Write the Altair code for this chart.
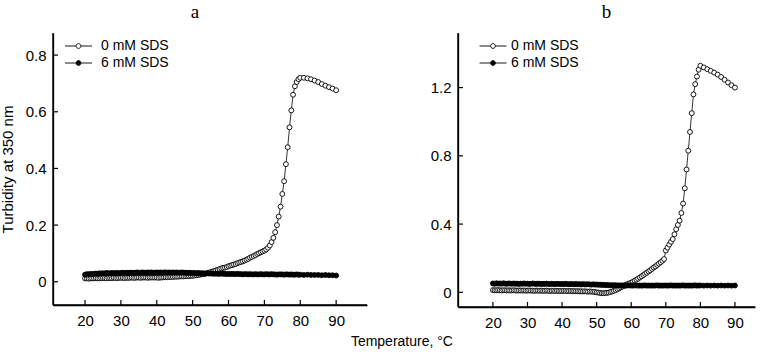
import altair as alt
import pandas as pd

# Temperature sampling grid (deg C): 0.5 steps up to 79.5, then 1-degree steps to 90
T = [20 + 0.5 * i for i in range(120)] + [80 + i for i in range(11)]

SERIES = ["0 mM SDS", "6 mM SDS"]

# ---- Panel a ----
A_0 = [0.012,0.012,0.011,0.012,0.012,0.012,0.013,0.012,0.012,0.013, 0.013,0.013,0.012,0.013,0.013,0.013,0.014,0.013,0.013,0.014,
       0.014,0.014,0.013,0.014,0.014,0.014,0.015,0.014,0.014,0.015, 0.015,0.014,0.015,0.015,0.015,0.014,0.015,0.015,0.015,0.015,
       0.015,0.014,0.015,0.015,0.016,0.016,0.016,0.017,0.017,0.017, 0.018,0.018,0.018,0.019,0.019,0.019,0.020,0.020,0.020,0.021,
       0.021,0.022,0.023,0.024,0.025,0.026,0.027,0.028,0.030,0.032, 0.034,0.036,0.038,0.040,0.042,0.045,0.047,0.049,0.050,0.052,
       0.055,0.057,0.059,0.061,0.063,0.066,0.068,0.070,0.072,0.075, 0.078,0.081,0.085,0.088,0.091,0.094,0.098,0.101,0.104,0.107,
       0.110,0.114,0.120,0.128,0.140,0.155,0.175,0.200,0.230,0.265, 0.310,0.355,0.415,0.475,0.545,0.605,0.660,0.690,0.705,0.715,
       0.720,0.720,0.718,0.715,0.710,0.705,0.698,0.692,0.687,0.682,0.676]
A_6 = [0.025,0.027,0.026,0.028,0.027,0.028,0.029,0.028,0.030,0.029, 0.030,0.029,0.031,0.030,0.030,0.031,0.030,0.031,0.031,0.030,
       0.031,0.032,0.031,0.032,0.031,0.032,0.032,0.031,0.032,0.033, 0.032,0.032,0.033,0.032,0.032,0.033,0.032,0.033,0.032,0.032,
       0.033,0.032,0.033,0.032,0.033,0.033,0.032,0.033,0.032,0.033, 0.032,0.033,0.032,0.032,0.033,0.032,0.032,0.031,0.032,0.031,
       0.031,0.031,0.030,0.031,0.030,0.030,0.030,0.029,0.030,0.029, 0.029,0.029,0.028,0.029,0.028,0.028,0.029,0.028,0.028,0.027,
       0.028,0.027,0.028,0.027,0.027,0.028,0.027,0.027,0.026,0.027, 0.027,0.026,0.027,0.026,0.026,0.027,0.026,0.026,0.027,0.026,
       0.026,0.027,0.026,0.026,0.027,0.026,0.026,0.025,0.026,0.026, 0.026,0.025,0.026,0.026,0.025,0.026,0.025,0.025,0.026,0.025,
       0.025,0.024,0.025,0.024,0.024,0.024,0.023,0.024,0.023,0.023,0.022]

# ---- Panel b ----
B_0 = [0.013,0.012,0.012,0.013,0.012,0.011,0.012,0.012,0.011,0.012, 0.011,0.011,0.012,0.011,0.010,0.011,0.011,0.010,0.011,0.010,
       0.010,0.011,0.010,0.010,0.009,0.010,0.010,0.009,0.010,0.009, 0.009,0.010,0.009,0.008,0.009,0.009,0.008,0.009,0.008,0.008,
       0.008,0.009,0.008,0.007,0.008,0.008,0.007,0.007,0.006,0.007, 0.006,0.006,0.005,0.006,0.005,0.004,0.005,0.004,0.003,0.002,
       0.000,-0.002,-0.004,-0.005,-0.005,-0.004,-0.003,-0.001,0.002,0.005, 0.009,0.013,0.018,0.023,0.029,0.034,0.039,0.044,0.049,0.053,
       0.057,0.062,0.068,0.074,0.080,0.087,0.094,0.101,0.108,0.115, 0.122,0.129,0.137,0.145,0.152,0.160,0.168,0.176,0.185,0.195,
       0.245,0.262,0.280,0.296,0.312,0.340,0.370,0.395,0.420,0.465, 0.520,0.610,0.720,0.830,0.940,1.050,1.160,1.220,1.265,1.305,
       1.328,1.318,1.308,1.298,1.288,1.276,1.262,1.246,1.230,1.214,1.200]
B_6 = [0.052,0.050,0.053,0.051,0.052,0.050,0.053,0.051,0.050,0.052, 0.051,0.050,0.052,0.050,0.051,0.049,0.051,0.050,0.052,0.050,
       0.051,0.049,0.050,0.052,0.050,0.049,0.051,0.050,0.048,0.050, 0.049,0.051,0.049,0.048,0.050,0.049,0.048,0.050,0.049,0.048,
       0.049,0.048,0.050,0.048,0.047,0.049,0.048,0.047,0.049,0.047, 0.048,0.046,0.048,0.047,0.046,0.048,0.046,0.045,0.047,0.045,
       0.046,0.044,0.045,0.043,0.044,0.042,0.043,0.042,0.041,0.042, 0.041,0.042,0.040,0.041,0.040,0.041,0.040,0.039,0.041,0.040,
       0.040,0.039,0.041,0.040,0.039,0.040,0.039,0.040,0.041,0.039, 0.040,0.039,0.040,0.039,0.040,0.041,0.039,0.040,0.039,0.040,
       0.040,0.039,0.040,0.041,0.039,0.040,0.039,0.040,0.039,0.040, 0.041,0.039,0.040,0.039,0.040,0.039,0.040,0.041,0.039,0.040,
       0.040,0.039,0.040,0.039,0.040,0.039,0.040,0.039,0.040,0.039,0.040]

X_TICKS = [20, 30, 40, 50, 60, 70, 80, 90]
A_Y_TICKS = [0, 0.2, 0.4, 0.6, 0.8]
B_Y_TICKS = [0, 0.4, 0.8, 1.2]

FONT = "Liberation Sans"
SERIF = "Liberation Serif"

# legend symbol: short line with a small circle in the middle
SYM = ("M-2.7,0L-0.5,0M0.5,0L2.7,0"
       "M0.48,0A0.48,0.48,0,1,1,-0.48,0A0.48,0.48,0,1,1,0.48,0Z")


def make_df(v0, v6):
    return pd.DataFrame({
        "T": T + T,
        "turb": v0 + v6,
        "series": [SERIES[0]] * len(v0) + [SERIES[1]] * len(v6),
    })


def panel(v0, v6, xdom, ydom, yticks, w, h, label, ytitle, legx, legoff, tdx):
    df = make_df(v0, v6)
    xs = alt.Scale(domain=xdom, nice=False, zero=False)
    ys = alt.Scale(domain=ydom, nice=False, zero=False)
    xax = alt.Axis(values=X_TICKS, title=None, ticks=False, grid=False, domain=True,
                   domainColor="black", domainWidth=1.3,
                   labelFontSize=15, labelFont=FONT, labelColor="black",
                   labelPadding=8)
    yax = alt.Axis(values=yticks, title=ytitle if ytitle else None, format="~g",
                   ticks=False, grid=False, domain=True,
                   domainColor="black", domainWidth=1.3,
                   labelFontSize=15, labelFont=FONT, labelColor="black",
                   labelPadding=7,
                   titleFont=FONT, titleFontSize=15, titleFontWeight="normal",
                   titleColor="black", titlePadding=10)
    x = alt.X("T:Q", scale=xs, axis=xax)
    y = alt.Y("turb:Q", scale=ys, axis=yax)
    # inward tick marks
    xt_df = pd.DataFrame({"T": X_TICKS, "turb": [ydom[0]] * len(X_TICKS)})
    yt_df = pd.DataFrame({"T": [xdom[0]] * len(yticks), "turb": yticks})
    xt = alt.Chart(xt_df).mark_tick(orient="vertical", size=5, thickness=1.2,
                                    color="black", opacity=1, yOffset=-2.5).encode(x=x, y=y)
    yt = alt.Chart(yt_df).mark_tick(orient="horizontal", size=5, thickness=1.2,
                                    color="black", opacity=1, xOffset=2.5).encode(x=x, y=y)
    # axis lines
    frame = alt.Chart(pd.DataFrame({"k": [0]}))
    yline = frame.mark_rule(color="black", strokeWidth=1.4).encode(
        x=alt.datum(xdom[0]), y=alt.datum(ydom[0]), y2=alt.datum(ydom[1]))
    xline = frame.mark_rule(color="black", strokeWidth=1.4).encode(
        y=alt.datum(ydom[0]), x=alt.datum(xdom[0]), x2=alt.datum(xdom[1]))
    base = alt.Chart(df)
    line = base.mark_line(color="black", strokeWidth=0.8).encode(
        x=x, y=y, detail="series:N", order="T:Q")
    pts = base.mark_point(filled=True, shape="circle", size=24, stroke="black",
                          strokeWidth=0.9, opacity=1).encode(
        x=x, y=y,
        fill=alt.Fill("series:N",
                      scale=alt.Scale(domain=SERIES, range=["white", "black"]),
                      legend=alt.Legend(title=None, orient="none", legendX=legx, legendY=6,
                                        symbolType=SYM, symbolSize=100,
                                        symbolStrokeColor="black", symbolStrokeWidth=0.9,
                                        labelFont=FONT, labelFontSize=14, labelColor="black",
                                        labelOffset=legoff, rowPadding=3, padding=0)))
    return alt.layer(xt, yt, yline, xline, line, pts).properties(
        width=w, height=h,
        title=alt.TitleParams(label, font=SERIF, fontSize=19, fontWeight="normal",
                              color="black", offset=10, dx=tdx))


pa = panel(A_0, A_6, [11.08, 98.6], [-0.082, 0.878], A_Y_TICKS, 314, 272, "a",
           "Turbidity at 350 nm", 18.5, 15.5, -15)
pb = panel(B_0, B_6, [9.9, 95.8], [-0.086, 1.52], B_Y_TICKS, 297, 274, "b",
           None, 28, 11, 0)

chart = alt.hconcat(pa, pb, spacing=62).resolve_scale(
    x="independent", y="independent", fill="independent"
).resolve_legend(fill="independent").properties(
    title=alt.TitleParams("Temperature, °C", orient="bottom", anchor="middle",
                          font=FONT, fontSize=14, fontWeight="normal", color="black",
                          dx=24, offset=5),
    padding={"left": 0, "top": 3, "right": 5, "bottom": 5},
).configure_view(strokeWidth=0)

chart.save("out.html", embed_options={"renderer": "svg", "actions": False})
